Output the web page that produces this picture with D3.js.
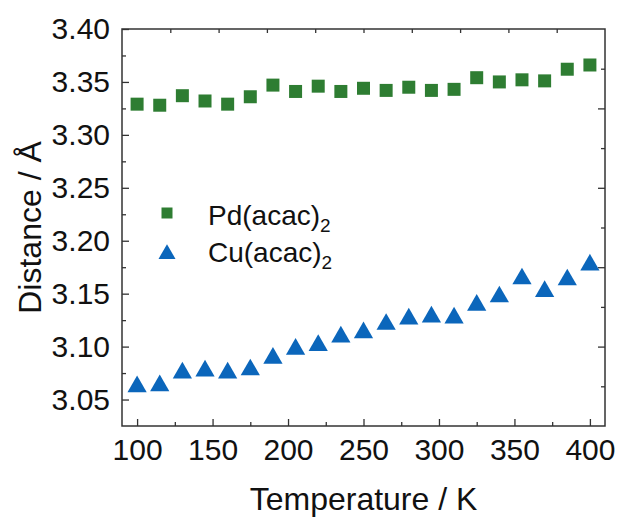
<!DOCTYPE html>
<html>
<head>
<meta charset="utf-8">
<script src="https://cdn.jsdelivr.net/npm/d3@7"></script>
<style>
  body { margin: 0; background: #fff; }
  text { font-family: "Liberation Sans", Arial, sans-serif; fill: #111; }
</style>
</head>
<body>
<div id="chart"></div>
<script>
// temperatures (K)
var temps = [100, 115, 130, 145, 160, 175, 190, 205, 220, 235, 250, 265, 280, 295, 310, 325, 340, 355, 370, 385, 400];
// Pd(acac)2 distances
var pdVals = [3.329, 3.328, 3.337, 3.332, 3.329, 3.336, 3.347, 3.341, 3.346, 3.341, 3.344, 3.342, 3.345, 3.342, 3.343, 3.354, 3.350, 3.352, 3.351, 3.362, 3.366];
// Cu(acac)2 distances
var cuVals = [3.064, 3.065, 3.077, 3.079, 3.077, 3.080, 3.091, 3.0995, 3.103, 3.111, 3.115, 3.123, 3.128, 3.130, 3.129, 3.141, 3.149, 3.166, 3.154, 3.165, 3.179];
var xTicks = [100, 150, 200, 250, 300, 350, 400];
var yTicks = [3.05, 3.10, 3.15, 3.20, 3.25, 3.30, 3.35, 3.40];

var W = 619, H = 518;
var margin = { top: 29, right: 14, bottom: 92, left: 122 },
    width = W - margin.left - margin.right,
    height = H - margin.top - margin.bottom;

var svg = d3.select("#chart")
    .append("svg")
    .attr("width", W)
    .attr("height", H)
    .append("g")
    .attr("transform", "translate(" + margin.left + "," + margin.top + ")");

var x = d3.scaleLinear().domain([90, 410]).range([0, width]);
var y = d3.scaleLinear().domain([3.025, 3.40]).range([height, 0]);

var green = "#2e7d32", blue = "#0b66bb", axisCol = "#333";

function styleAxis(g) {
    g.select(".domain").remove();
    g.selectAll(".tick line").attr("stroke", axisCol).attr("stroke-width", 1.3);
    g.selectAll(".tick text").style("font-size", "30px").attr("fill", "#111");
}

// bottom axis, minor then major
svg.append("g")
    .attr("transform", "translate(0," + height + ")")
    .call(d3.axisBottom(x).tickValues(d3.range(125, 401, 50)).tickSize(-4).tickFormat(""))
    .call(styleAxis);
svg.append("g")
    .attr("transform", "translate(0," + height + ")")
    .call(d3.axisBottom(x).tickValues(xTicks).tickSize(-7).tickPadding(13).tickFormat(d3.format("d")))
    .call(styleAxis);

// left axis
svg.append("g")
    .call(d3.axisLeft(y).tickValues(d3.range(3.075, 3.40, 0.05)).tickSize(-4).tickFormat(""))
    .call(styleAxis);
svg.append("g")
    .call(d3.axisLeft(y).tickValues(yTicks).tickSize(-7).tickPadding(12).tickFormat(d3.format(".2f")))
    .call(styleAxis);

// top axis: ten equal divisions, no labels
var xTop = d3.scaleLinear().domain([0, 10]).range([0, width]);
svg.append("g")
    .call(d3.axisTop(xTop).tickValues(d3.range(1, 10)).tickSize(-4).tickFormat(""))
    .call(styleAxis);

// right axis: ten divisions, alternating lengths
var yRight = d3.scaleLinear().domain([0, 10]).range([height, 0]);
svg.append("g")
    .attr("transform", "translate(" + width + ",0)")
    .call(d3.axisRight(yRight).tickValues([1, 3, 5, 7, 9]).tickSize(-4).tickFormat(""))
    .call(styleAxis);
svg.append("g")
    .attr("transform", "translate(" + width + ",0)")
    .call(d3.axisRight(yRight).tickValues([2, 4, 6, 8]).tickSize(-7).tickFormat(""))
    .call(styleAxis);

// frame
svg.append("rect")
    .attr("width", width)
    .attr("height", height)
    .attr("fill", "none")
    .attr("stroke", axisCol)
    .attr("stroke-width", 1.5);

var sq = d3.symbol().type(d3.symbolSquare).size(169);
var tri = d3.symbol().type(d3.symbolTriangle).size(160);

// Pd squares
svg.selectAll(".pd")
    .data(temps.map((t, i) => ({ t: t, v: pdVals[i] })))
    .enter().append("path")
    .attr("class", "pd")
    .attr("transform", d => "translate(" + x(d.t) + "," + y(d.v) + ")")
    .attr("d", sq)
    .attr("fill", green);

// Cu triangles
svg.selectAll(".cu")
    .data(temps.map((t, i) => ({ t: t, v: cuVals[i] })))
    .enter().append("path")
    .attr("class", "cu")
    .attr("transform", d => "translate(" + x(d.t) + "," + (y(d.v) + 2) + ")")
    .attr("d", tri)
    .attr("fill", blue);

// legend
var leg = svg.append("g").attr("transform", "translate(45,0)");
leg.append("path")
    .attr("transform", "translate(0,184)")
    .attr("d", d3.symbol().type(d3.symbolSquare).size(121))
    .attr("fill", green);
leg.append("path")
    .attr("transform", "translate(0,225)")
    .attr("d", d3.symbol().type(d3.symbolTriangle).size(125))
    .attr("fill", blue);
var t1 = leg.append("text").attr("x", 41).attr("y", 196).style("font-size", "28px");
t1.append("tspan").text("Pd(acac)");
t1.append("tspan").attr("dy", 7).style("font-size", "19px").text("2");
var t2 = leg.append("text").attr("x", 41).attr("y", 233).style("font-size", "28px");
t2.append("tspan").text("Cu(acac)");
t2.append("tspan").attr("dy", 7).style("font-size", "19px").text("2");

// axis titles
svg.append("text")
    .attr("x", width / 2)
    .attr("y", height + 84)
    .attr("text-anchor", "middle")
    .style("font-size", "32px")
    .text("Temperature / K");
svg.append("text")
    .attr("transform", "translate(" + (-81) + "," + (height / 2) + ") rotate(-90)")
    .attr("text-anchor", "middle")
    .style("font-size", "32px")
    .text("Distance / Å");
</script>
</body>
</html>
